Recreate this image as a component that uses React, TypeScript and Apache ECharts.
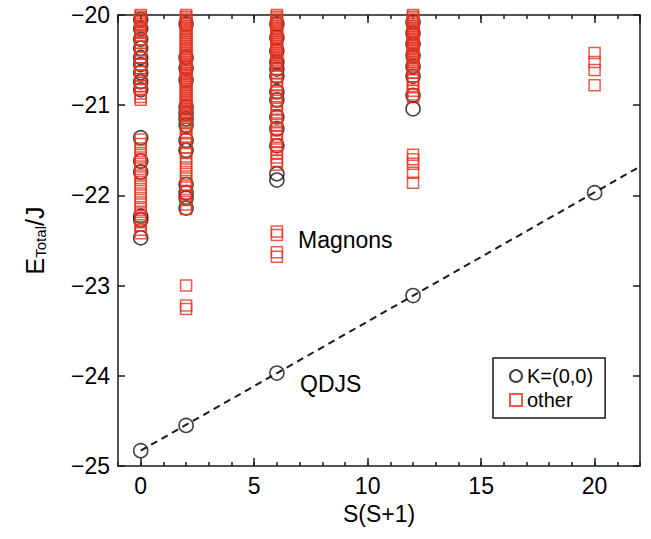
import React, { useEffect, useRef } from 'react';
import * as echarts from 'echarts';

// S(S+1) columns
const xCols = [0, 2, 6, 12, 20];

// K=(0,0) levels (black circles), per column
const kX0 = [-20.05, -20.15, -20.27, -20.37, -20.47, -20.55, -20.64, -20.74, -20.83, -21.36, -21.62, -21.74, -22.23, -22.27, -22.47, -24.83];
const kX2 = [-20.1, -20.47, -20.59, -20.72, -21.02, -21.09, -21.15, -21.22, -21.39, -21.5, -21.88, -21.97, -22.03, -22.14, -24.55];
const kX6 = [-20.1, -20.25, -20.4, -20.52, -20.6, -20.68, -20.85, -20.94, -21.13, -21.26, -21.45, -21.76, -21.83, -23.97];
const kX12 = [-20.08, -20.2, -20.32, -20.45, -20.57, -20.68, -20.89, -21.04, -23.11];
const kX20 = [-21.97];

// other levels (red squares), per column
const oX0 = [-20.0, -20.02, -20.04, -20.06, -20.08, -20.1, -20.12, -20.14, -20.16, -20.18, -20.2, -20.23, -20.27, -20.31, -20.35, -20.39, -20.43, -20.47, -20.51, -20.55, -20.59, -20.63, -20.67, -20.71, -20.75, -20.79, -20.83, -20.87, -20.91, -20.94, -21.38, -21.43, -21.48, -21.53, -21.58, -21.63, -21.68, -21.73, -21.78, -21.83, -21.88, -21.93, -21.98, -22.03, -22.08, -22.13, -22.18, -22.23, -22.28, -22.33, -22.38, -22.42];
const oX2 = [-20.0, -20.02, -20.04, -20.06, -20.08, -20.1, -20.12, -20.14, -20.16, -20.18, -20.2, -20.22, -20.24, -20.26, -20.28, -20.3, -20.32, -20.34, -20.36, -20.38, -20.4, -20.42, -20.44, -20.46, -20.48, -20.5, -20.52, -20.54, -20.56, -20.58, -20.6, -20.62, -20.64, -20.66, -20.68, -20.7, -20.72, -20.74, -20.76, -20.78, -20.8, -20.82, -20.84, -20.86, -20.88, -20.9, -20.92, -20.94, -20.96, -20.98, -21.0, -21.02, -21.04, -21.06, -21.08, -21.1, -21.12, -21.14, -21.17, -21.2, -21.23, -21.26, -21.31, -21.36, -21.42, -21.47, -21.53, -21.59, -21.64, -21.69, -21.74, -21.79, -21.84, -21.89, -21.95, -22.0, -22.05, -22.1, -22.15, -23.0, -23.22, -23.26];
const oX6 = [-20.0, -20.02, -20.04, -20.06, -20.08, -20.1, -20.12, -20.14, -20.16, -20.18, -20.2, -20.22, -20.24, -20.26, -20.28, -20.3, -20.32, -20.34, -20.36, -20.38, -20.4, -20.42, -20.44, -20.46, -20.48, -20.5, -20.52, -20.54, -20.56, -20.6, -20.64, -20.68, -20.72, -20.77, -20.81, -20.86, -20.9, -20.95, -20.99, -21.04, -21.08, -21.13, -21.17, -21.22, -21.26, -21.31, -21.35, -21.4, -21.44, -21.49, -21.53, -21.58, -21.62, -21.66, -22.4, -22.44, -22.63, -22.68];
const oX12 = [-20.0, -20.02, -20.04, -20.06, -20.08, -20.1, -20.12, -20.14, -20.16, -20.18, -20.2, -20.22, -20.24, -20.26, -20.28, -20.3, -20.32, -20.34, -20.36, -20.38, -20.4, -20.42, -20.44, -20.46, -20.48, -20.5, -20.52, -20.54, -20.57, -20.6, -20.64, -20.68, -20.72, -20.76, -20.8, -20.84, -20.88, -20.91, -21.55, -21.6, -21.65, -21.75, -21.86];
const oX20 = [-20.42, -20.52, -20.61, -20.78];

const kCols = [kX0, kX2, kX6, kX12, kX20];
const oCols = [oX0, oX2, oX6, oX12, oX20];

// dashed QDJS line endpoints
const fitX = [0, 22];
const fitY = [-24.83, -21.68];

const seriesNames = ['K=(0,0)', 'other'];
const annotations = ['Magnons', 'QDJS'];

const FONT = '"Liberation Sans", Arial, Helvetica, sans-serif';
const INK = '#1a1a1a';
const RED = '#e6321f';

const fmt = (v: number) => (v < 0 ? '\u2212' + String(Math.abs(v)) : String(v));

export default function App() {
  const ref = useRef<HTMLDivElement>(null);
  useEffect(() => {
    if (!ref.current) return;
    const chart = echarts.init(ref.current, undefined, { renderer: 'svg' });
    const kData = xCols.flatMap((x, i) => kCols[i].map((y) => [x, y]));
    const oData = xCols.flatMap((x, i) => oCols[i].map((y) => [x, y]));
    const fitData = fitX.map((x, i) => [x, fitY[i]]);
    const lineStyle = { color: INK, width: 1.5 };
    const base = { type: 'value', min: -1, max: 22, splitLine: { show: false } };
    const option: any = {
      animation: false,
      backgroundColor: '#fff',
      grid: { left: 118, right: 11, top: 15, bottom: 73, containLabel: false },
      xAxis: [
        {
          ...base,
          position: 'bottom',
          axisLine: { show: true, onZero: false, lineStyle },
          axisTick: { show: true, inside: true, length: 8, lineStyle },
          axisLabel: {
            show: true,
            showMinLabel: false,
            showMaxLabel: false,
            formatter: (v: number) => (v % 5 === 0 ? fmt(v) : ''),
            fontSize: 23,
            color: '#000',
            fontFamily: FONT,
            margin: 8,
          },
          name: 'S(S+1)',
          nameLocation: 'middle',
          nameGap: 36,
          nameTextStyle: { fontSize: 23, color: '#000', fontFamily: FONT },
        },
        {
          ...base,
          interval: 1,
          position: 'bottom',
          axisLine: { show: false },
          axisTick: { show: true, inside: true, length: 4, lineStyle },
          axisLabel: { show: false },
        },
        {
          ...base,
          position: 'top',
          axisLine: { show: true, onZero: false, lineStyle },
          axisTick: { show: true, inside: true, length: 8, lineStyle },
          axisLabel: { show: false },
        },
        {
          ...base,
          interval: 1,
          position: 'top',
          axisLine: { show: false },
          axisTick: { show: true, inside: true, length: 4, lineStyle },
          axisLabel: { show: false },
        },
      ],
      yAxis: [
        {
          type: 'value',
          min: -25,
          max: -20,
          interval: 1,
          position: 'left',
          splitLine: { show: false },
          axisLine: { show: true, onZero: false, lineStyle },
          axisTick: { show: true, inside: true, length: 7, lineStyle },
          axisLabel: { formatter: fmt, fontSize: 23, color: '#000', fontFamily: FONT, margin: 8 },
          name: '{e|E}{s|Total}{e|/J}',
          nameLocation: 'middle',
          nameGap: 70,
          nameTextStyle: {
            rich: {
              e: { fontSize: 25, color: '#000', fontFamily: FONT },
              s: { fontSize: 15, color: '#000', fontFamily: FONT, padding: [12, 0, 0, 0] },
            },
          },
        },
        {
          type: 'value',
          min: -25,
          max: -20,
          interval: 1,
          position: 'right',
          splitLine: { show: false },
          axisLine: { show: true, onZero: false, lineStyle },
          axisTick: { show: true, inside: true, length: 7, lineStyle },
          axisLabel: { show: false },
        },
      ],
      legend: {
        orient: 'vertical',
        left: 493,
        top: 358,
        padding: [8, 12, 8, 16],
        itemGap: 4,
        itemWidth: 12,
        itemHeight: 12,
        borderColor: INK,
        borderWidth: 1.5,
        backgroundColor: '#fff',
        textStyle: { fontSize: 20, color: '#000', fontFamily: FONT },
        data: [
          { name: seriesNames[0], icon: 'circle' },
          { name: seriesNames[1], icon: 'rect' },
        ],
      },
      graphic: [
        { type: 'text', left: 298, top: 228, style: { text: annotations[0], fontSize: 23, fontFamily: FONT, fill: '#000' } },
        { type: 'text', left: 300, top: 372, style: { text: annotations[1], fontSize: 23, fontFamily: FONT, fill: '#000' } },
      ],
      series: [
        {
          type: 'line',
          data: fitData,
          xAxisIndex: 0,
          yAxisIndex: 0,
          symbol: 'none',
          silent: true,
          lineStyle: { color: INK, width: 2, type: [7, 5] },
        },
        {
          type: 'scatter',
          name: seriesNames[0],
          data: kData,
          xAxisIndex: 0,
          yAxisIndex: 0,
          symbol: 'circle',
          symbolSize: 14,
          itemStyle: { color: 'rgba(0,0,0,0)', borderColor: '#111', borderWidth: 1.6 },
        },
        {
          type: 'scatter',
          name: seriesNames[1],
          data: oData,
          xAxisIndex: 0,
          yAxisIndex: 0,
          symbol: 'rect',
          symbolSize: 11,
          itemStyle: { color: 'rgba(0,0,0,0)', borderColor: RED, borderWidth: 1.5 },
        },
      ],
    };
    chart.setOption(option);
    return () => chart.dispose();
  }, []);
  return <div ref={ref} style={{ position: 'fixed', left: 0, top: 0, width: 651, height: 539 }} />;
}
